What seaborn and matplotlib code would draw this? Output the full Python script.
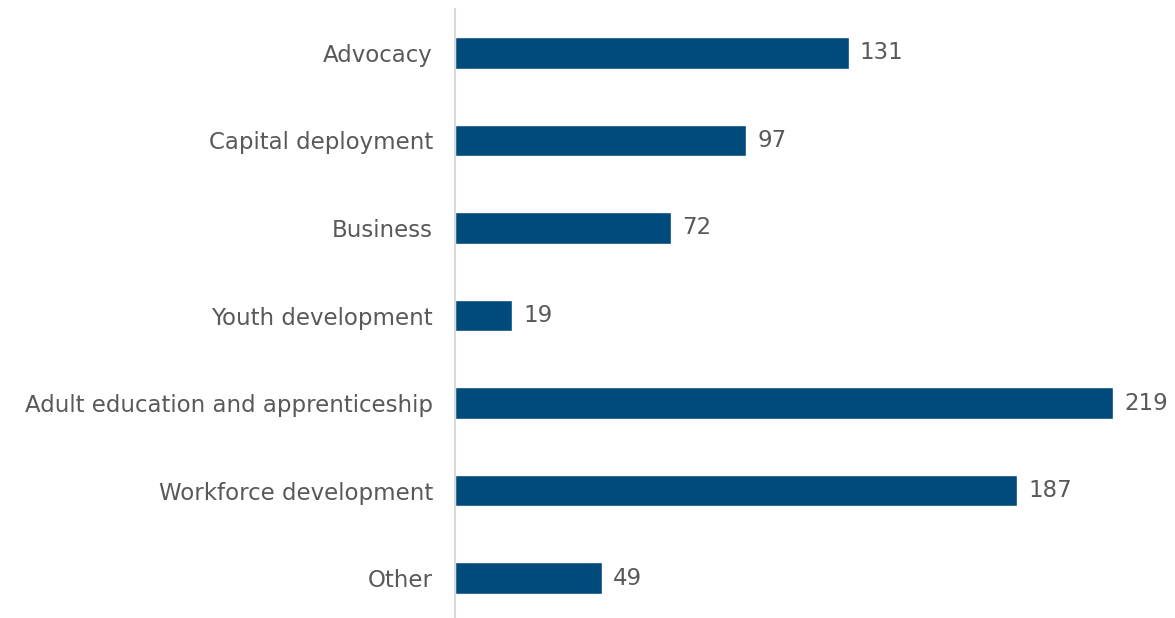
import matplotlib
matplotlib.use("Agg")
import matplotlib.pyplot as plt
import seaborn as sns
import pandas as pd

categories = [
    "Advocacy",
    "Capital deployment",
    "Business",
    "Youth development",
    "Adult education and apprenticeship",
    "Workforce development",
    "Other",
]
counts = [131, 97, 72, 19, 219, 187, 49]

df = pd.DataFrame({"category": categories, "count": counts})

sns.set_theme(style="white")
plt.rcParams["font.family"] = ["DejaVu Sans"]

bar_color = "#004A7C"
text_color = "#595959"

fig = plt.figure(figsize=(11.75, 6.18), dpi=100)
W, H = 1175, 618
ax = fig.add_axes([455 / W, -4 / H, (1175 - 455) / W, (622 - 9) / H])

sns.barplot(data=df, y="category", x="count", orient="h",
            color=bar_color, width=0.36, saturation=1, ax=ax)

ax.set_xlim(0, 239.6)
ax.set_xlabel("")
ax.set_ylabel("")
ax.set_xticks([])
for side in ["top", "right", "bottom"]:
    ax.spines[side].set_visible(False)
ax.spines["left"].set_color("#D9D9D9")
ax.spines["left"].set_linewidth(1.5)

ax.tick_params(axis="y", length=0, pad=16, labelsize=16.5, labelcolor=text_color)
for lbl in ax.get_yticklabels():
    lbl.set_verticalalignment("center_baseline")

for container in ax.containers:
    ax.bar_label(container, labels=[str(v) for v in counts], padding=8,
                 fontsize=16.5, color=text_color)

fig.savefig("out.png", dpi=100)
